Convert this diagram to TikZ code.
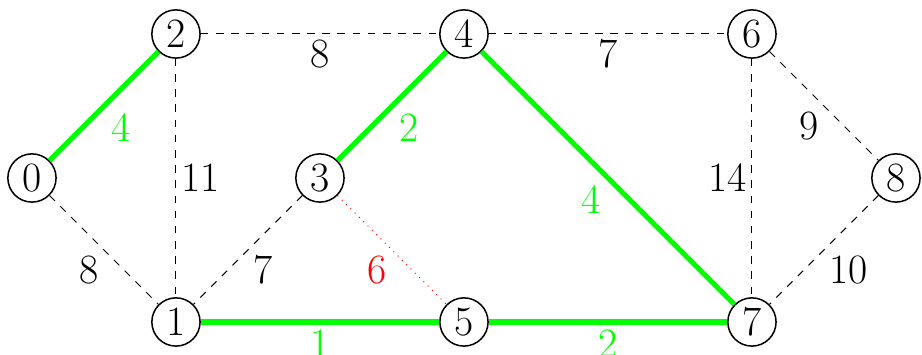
\documentclass[tikz,border=0pt]{standalone}

\begin{document}
\begin{tikzpicture}[x=2cm,y=2cm,font=\fontsize{16.5}{19}\selectfont,
    vtx/.style={circle,draw,semithick,minimum size=0.67cm,inner sep=0pt},
    tree/.style={green,line width=2pt},
    spare/.style={dashed,thin},
    skipped/.style={red,dotted,thin},
    every node/.append style={inner sep=2pt}]
\useasboundingbox (-0.222,-1.229) rectangle (6.181,1.236);
% vertices
\node[vtx] (n0) at (0,0) {0};
\node[vtx] (n1) at (1,-1) {1};
\node[vtx] (n2) at (1,1) {2};
\node[vtx] (n3) at (2,0) {3};
\node[vtx] (n4) at (3,1) {4};
\node[vtx] (n5) at (3,-1) {5};
\node[vtx] (n6) at (5,1) {6};
\node[vtx] (n7) at (5,-1) {7};
\node[vtx] (n8) at (6,0) {8};
% edges not in the tree
\draw[spare] (n2)--node[below] {8} (n4);
\draw[spare] (n4)--node[below] {7} (n6);
\draw[spare] (n6)--node[below left] {9} (n8);
\draw[spare] (n2)--node[right] {11} (n1);
\draw[spare] (n6)--node[left] {14} (n7);
\draw[spare] (n0)--node[below left] {8} (n1);
\draw[spare] (n3)--node[below right] {7} (n1);
\draw[spare] (n8)--node[below right] {10} (n7);
\draw[skipped] (n3)--node[below left] {6} (n5);
% tree edges
\draw[tree] (n0)--node[below right] {4} (n2);
\draw[tree] (n3)--node[below right] {2} (n4);
\draw[tree] (n4)--node[below left] {4} (n7);
\draw[tree] (n1)--node[below] {1} (n5);
\draw[tree] (n5)--node[below] {2} (n7);
\end{tikzpicture}
\end{document}
